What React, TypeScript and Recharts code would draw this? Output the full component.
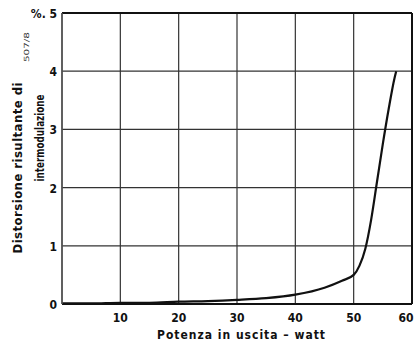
import { LineChart, Line, XAxis, YAxis, CartesianGrid, ReferenceLine } from "recharts";

const power = [0, 5, 10, 15, 20, 25, 30, 35, 40, 45, 48, 50, 51, 52, 53, 54, 55, 56, 57, 57.3];
const distortion = [0.01, 0.01, 0.02, 0.02, 0.04, 0.05, 0.07, 0.1, 0.16, 0.28, 0.4, 0.5, 0.66, 0.95, 1.45, 2.1, 2.75, 3.35, 3.88, 4.0];
const xTicks = [0, 10, 20, 30, 40, 50, 60];
const yTicks = [0, 1, 2, 3, 4, 5];

const data = power.map((p, i) => ({ p, d: distortion[i] }));

const font = "'DejaVu Sans Condensed', 'DejaVu Sans', sans-serif";

function XTick({ x, y, payload }: any) {
  if (payload.value === 0) return null;
  return (
    <text x={x} y={y + 10} textAnchor="middle" fontFamily={font} fontWeight="bold" fontSize={12} fill="#111">
      {payload.value}
    </text>
  );
}

function YTick({ x, y, payload }: any) {
  const label = payload.value === 5 ? "%. 5" : String(payload.value);
  return (
    <text x={x + 3} y={y + 5} textAnchor="end" fontFamily={font} fontWeight="bold" fontSize={12} fill="#111">
      {label}
    </text>
  );
}

export default function App() {
  return (
    <div style={{ position: "absolute", left: 0, top: 0, width: 414, height: 342, background: "#fff" }}>
      <LineChart width={414} height={342} data={data} margin={{ top: 13, right: 2, bottom: 0, left: 0 }}>
        <CartesianGrid stroke="#333" strokeWidth={1.2} />
        <XAxis
          dataKey="p"
          type="number"
          domain={[0, 60]}
          ticks={xTicks}
          tick={<XTick />}
          tickLine={false}
          axisLine={{ stroke: "#111", strokeWidth: 2 }}
          height={38}
          allowDataOverflow
        />
        <YAxis
          type="number"
          domain={[0, 5]}
          ticks={yTicks}
          tick={<YTick />}
          tickLine={false}
          axisLine={{ stroke: "#555", strokeWidth: 1.5 }}
          width={62}
        />
        <ReferenceLine y={5} stroke="#111" strokeWidth={2} />
        <ReferenceLine x={60} stroke="#111" strokeWidth={2} />
        <Line
          dataKey="d"
          type="monotone"
          stroke="#111"
          strokeWidth={2.2}
          dot={false}
          isAnimationActive={false}
        />
      </LineChart>
      <svg width={414} height={342} style={{ position: "absolute", left: 0, top: 0, pointerEvents: "none" }}>
        <text
          transform="translate(22,168) rotate(-90)"
          textAnchor="middle"
          fontFamily={font}
          fontWeight="bold"
          fontSize={13}
          fill="#111"
          textLength={171}
          lengthAdjust="spacing"
        >
          Distorsione  risultante  di
        </text>
        <text
          transform="translate(44,138) rotate(-90)"
          textAnchor="middle"
          fontFamily={font}
          fontWeight="bold"
          fontSize={13}
          fill="#111"
          textLength={87}
          lengthAdjust="spacingAndGlyphs"
        >
          intermodulazione
        </text>
        <text
          transform="translate(29,47) rotate(-90)"
          textAnchor="middle"
          fontFamily={font}
          fontSize={7}
          fill="#333"
          textLength={30}
          lengthAdjust="spacingAndGlyphs"
        >
          507/8
        </text>
        <text
          x={241}
          y={339}
          textAnchor="middle"
          fontFamily={font}
          fontWeight="bold"
          fontSize={12}
          fill="#111"
          textLength={168}
          lengthAdjust="spacing"
        >
          Potenza in uscita – watt
        </text>
      </svg>
    </div>
  );
}
